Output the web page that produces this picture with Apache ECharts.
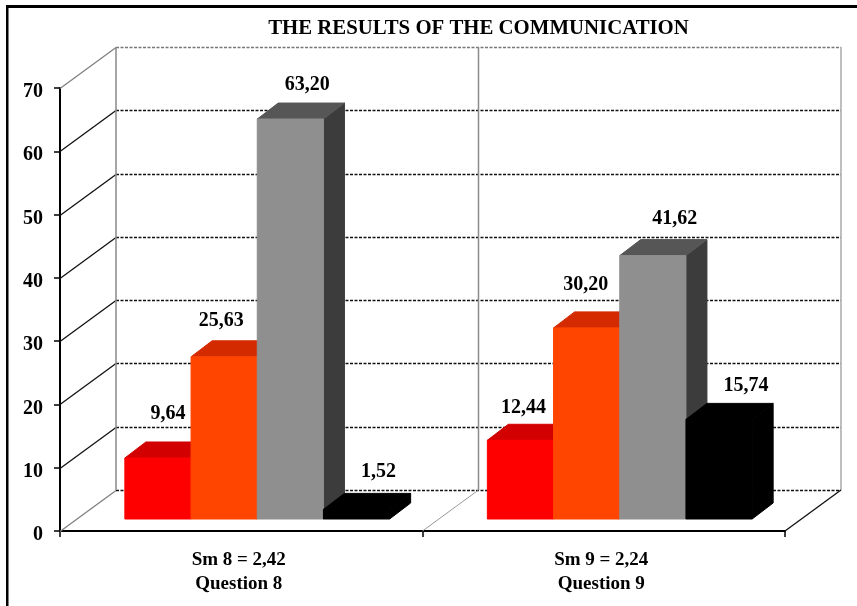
<!DOCTYPE html>
<html><head><meta charset="utf-8">
<style>html,body{margin:0;padding:0;background:#fff}#c{width:857px;height:606px}</style>
<script src="https://cdn.jsdelivr.net/npm/echarts@6/dist/echarts.min.js"></script>
</head><body><div id="c"></div>
<script>
const titleText = 'THE RESULTS OF THE COMMUNICATION';
const categories = ['Sm 8 = 2,42\nQuestion 8', 'Sm 9 = 2,24\nQuestion 9'];
const yTicks = [0, 10, 20, 30, 40, 50, 60, 70];
const redValues = [9.64, 12.44];
const orangeValues = [25.63, 30.20];
const greyValues = [63.20, 41.62];
const blackValues = [1.52, 15.74];

const FONT = '"Liberation Serif", "Times New Roman", serif';
const chart = echarts.init(document.getElementById('c'), null, {renderer: 'canvas'});
const WALL_DX = 56, WALL_DY = -41, BAR_DX = 21, BAR_DY = -16;
const BASE_LIFT = 12, GROUP_SHIFT = 16, BAR_W = 66.2;

function line(x1, y1, x2, y2, stroke, width, dash) {
  return {type: 'line', shape: {x1, y1, x2, y2},
    style: {stroke, lineWidth: width, lineDash: dash || null, fill: null}, silent: true};
}
function wallItem(params, api) {
  const v = api.value(0);
  const c = api.coord([0, v]);
  const w = api.size([1, 0])[0];
  const left = c[0] - w / 2, y = Math.round(c[1]) + 0.5;
  const right = left + 2 * w;
  const top = v === 70, floor = v === 0;
  const diag = top || floor ? '#808080' : '#111';
  const horiz = top ? '#777' : '#111';
  return {type: 'group', children: [
    line(left, y, left + WALL_DX, y + WALL_DY, diag, 1.3),
    line(left + WALL_DX, y + WALL_DY, right + WALL_DX, y + WALL_DY, horiz, 1.3, [3, 1.5])
  ]};
}
function vertItem(params, api) {
  const i = api.value(0);
  const w = api.size([1, 0])[0];
  const c0 = api.coord([0, 0]), c70 = api.coord([0, 70]);
  const x = c0[0] - w / 2 + i * w;
  const children = [
    line(x + WALL_DX, c0[1] + WALL_DY, x + WALL_DX, c70[1] + WALL_DY, i === 2 ? '#aaaaaa' : '#8a8a8a', 1.5)
  ];
  if (i === 1) children.push(line(x, c0[1], x + WALL_DX, c0[1] + WALL_DY, '#999', 1));
  if (i === 2) children.push(line(x, c0[1], x + WALL_DX, c0[1] + WALL_DY, '#111', 1.3));
  return {type: 'group', children};
}
const labelNudge = {
  red: [[10, -28], [3, -16]], orange: [[-3, -20], [-1, -27]],
  grey: [[17, -18], [22, -21]], black: [[22, -22], [27, -18]]
};
function barGeom(api, slot) {
  const i = api.value(0), v = api.value(1);
  const c = api.coord([i, v]), b = api.coord([i, 0]);
  const x0 = c[0] + GROUP_SHIFT - 2 * BAR_W + slot * BAR_W;
  return {i, v, x0, x1: x0 + BAR_W, yt: c[1] - BASE_LIFT, yb: b[1] - BASE_LIFT};
}
function barSeries(key, values, slot, front, topFace, side) {
  return {
    type: 'custom', name: key, z: 5 + slot, clip: false,
    data: values.map((v, i) => [i, v]),
    encode: {x: 0, y: 1},
    renderItem(params, api) {
      const {x0, x1, yt, yb} = barGeom(api, slot);
      const dx = BAR_DX, dy = BAR_DY;
      const poly = (pts, fill) => ({type: 'polygon', shape: {points: pts},
        style: {fill, stroke: fill, lineWidth: 1}, silent: true});
      return {type: 'group', children: [
        poly([[x1, yt], [x1 + dx, yt + dy], [x1 + dx, yb + dy], [x1, yb]], side),
        poly([[x0, yt], [x0 + dx, yt + dy], [x1 + dx, yt + dy], [x1, yt]], topFace),
        poly([[x0, yt], [x1, yt], [x1, yb], [x0, yb]], front)
      ]};
    }
  };
}
function labelSeries(key, values, slot) {
  return {
    type: 'custom', name: key + ' labels', z: 20, clip: false,
    data: values.map((v, i) => [i, v]),
    encode: {x: 0, y: 1},
    renderItem(params, api) {
      const {i, v, x0, x1, yt} = barGeom(api, slot);
      const n = labelNudge[key][i];
      return {type: 'text', silent: true, x: (x0 + x1) / 2 + n[0], y: yt + BAR_DY + n[1],
        style: {text: v.toFixed(2).replace('.', ','), fill: '#000', align: 'center', verticalAlign: 'middle',
          font: 'bold 20px ' + FONT}};
    }
  };
}
chart.setOption({
  backgroundColor: '#fff',
  animation: false,
  title: {text: titleText, left: 473.5, top: 13, textAlign: 'center',
    textStyle: {fontFamily: FONT, fontWeight: 'bold', fontSize: 20.8, color: '#000'}},
  grid: {left: 60, right: 72, top: 88, bottom: 75, containLabel: false},
  xAxis: {type: 'category', data: categories, boundaryGap: true,
    axisLine: {show: true, lineStyle: {color: '#000', width: 2}},
    axisTick: {show: true, alignWithLabel: false, length: 6, lineStyle: {color: '#000', width: 1.5}},
    axisLabel: {color: '#000', fontFamily: FONT, fontWeight: 'bold', fontSize: 19, lineHeight: 24, margin: 17, interval: 0, padding: [0, 5, 0, 0]},
    splitLine: {show: false}},
  yAxis: {type: 'value', min: 0, max: 70, interval: 10,
    axisLine: {show: true, lineStyle: {color: '#000', width: 2}},
    axisTick: {show: true, length: 6, lineStyle: {color: '#000', width: 1.5}},
    axisLabel: {color: '#000', fontFamily: FONT, fontWeight: 'bold', fontSize: 20, margin: 17, verticalAlign: 'top', lineHeight: 8},
    splitLine: {show: false}},
  graphic: [
    {type: 'rect', shape: {x: 6, y: 5, width: 2.5, height: 601}, style: {fill: '#000'}, silent: true},
    {type: 'rect', shape: {x: 6, y: 5, width: 851, height: 3}, style: {fill: '#000'}, silent: true}
  ],
  series: [
    {type: 'custom', z: 1, clip: false, data: yTicks.map(t => [t]), encode: {y: 0}, renderItem: wallItem},
    {type: 'custom', z: 2, clip: false, data: [[0], [1], [2]], renderItem: vertItem},
    barSeries('red', redValues, 0, '#ff0000', '#d20000', '#b00000'),
    barSeries('orange', orangeValues, 1, '#ff4500', '#d42a00', '#a83000'),
    barSeries('grey', greyValues, 2, '#8f8f8f', '#565656', '#3c3c3c'),
    barSeries('black', blackValues, 3, '#000000', '#000000', '#000000'),
    labelSeries('red', redValues, 0),
    labelSeries('orange', orangeValues, 1),
    labelSeries('grey', greyValues, 2),
    labelSeries('black', blackValues, 3)
  ]
});
</script></body></html>
